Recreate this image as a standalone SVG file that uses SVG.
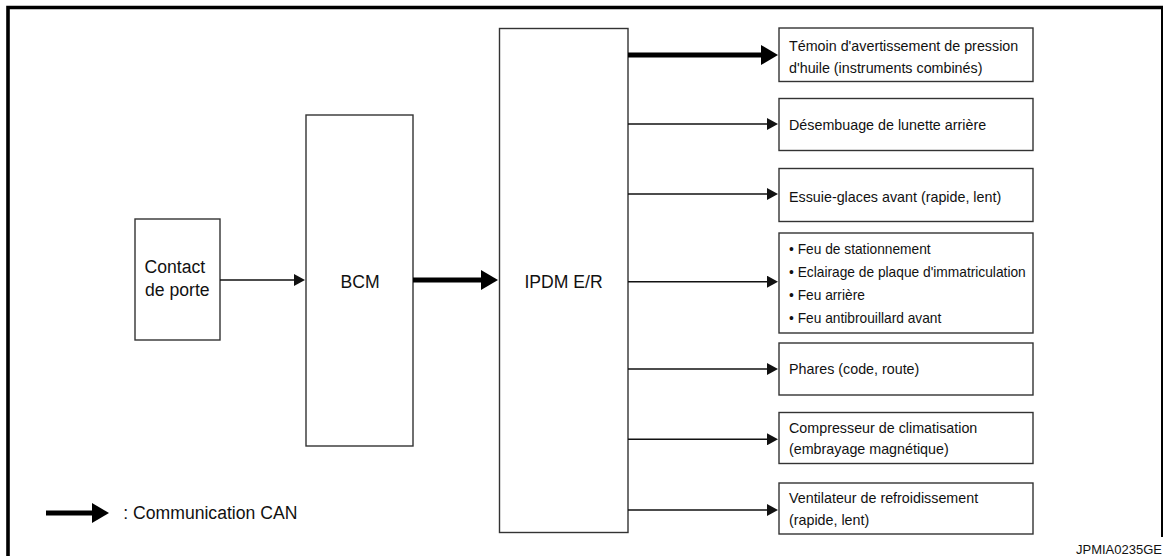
<svg xmlns="http://www.w3.org/2000/svg" width="1163" height="556" viewBox="0 0 1163 556">
<style>
.box{fill:#fff;stroke:#333;stroke-width:1.4}
.t{font-family:"Liberation Sans",Arial,sans-serif;font-size:14.3px;fill:#111}
.b{font-size:13.75px}
.big{font-family:"Liberation Sans",Arial,sans-serif;font-size:17.6px;fill:#111}
.thin{stroke:#111;stroke-width:1.4;fill:none}
.thick{stroke:#000;stroke-width:5;fill:none}
.frame{stroke:#000;stroke-width:3.6;fill:none}
</style>
<defs>
<marker id="ah" viewBox="0 -6 11 12" markerWidth="11" markerHeight="12" refX="1" refY="0" markerUnits="userSpaceOnUse" orient="auto">
<path d="M0,-6 L11,0 L0,6 z" fill="#111"/>
</marker>
<marker id="ahT" viewBox="0 -10 17 20" markerWidth="17" markerHeight="20" refX="1" refY="0" markerUnits="userSpaceOnUse" orient="auto">
<path d="M0,-10 L17,0 L0,10 z" fill="#000"/>
</marker>
</defs>
<g id="frame">
<path class="frame" d="M8,556 V7.5 H1163"/>
<line x1="1162" y1="6" x2="1162" y2="537" stroke="#000" stroke-width="2"/>
</g>
<g id="contact">
<rect class="box" x="135" y="219" width="85" height="121"/>
<text class="big" x="144.5" y="273">Contact</text>
<text class="big" x="145" y="296">de porte</text>
</g>
<g id="bcm">
<rect class="box" x="306" y="115" width="107" height="331"/>
<text class="big" x="360" y="288" text-anchor="middle">BCM</text>
</g>
<g id="ipdm">
<rect class="box" x="499.5" y="28.5" width="128.5" height="504"/>
<text class="big" x="563.5" y="288" text-anchor="middle">IPDM E/R</text>
</g>
<g id="n1">
<rect class="box" x="779" y="28" width="254" height="53.5"/>
<text class="t" x="789" y="51">Témoin d'avertissement de pression</text>
<text class="t" x="789" y="72.5">d'huile (instruments combinés)</text>
</g>
<g id="n2">
<rect class="box" x="779" y="98.5" width="254" height="52"/>
<text class="t" x="789" y="130">Désembuage de lunette arrière</text>
</g>
<g id="n3">
<rect class="box" x="779" y="168.5" width="254" height="53"/>
<text class="t" x="789" y="201.7">Essuie-glaces avant (rapide, lent)</text>
</g>
<g id="n4">
<rect class="box" x="779" y="233" width="254" height="100"/>
<text class="t b" x="789" y="254.3">• Feu de stationnement</text>
<text class="t b" x="789" y="277.3">• Eclairage de plaque d'immatriculation</text>
<text class="t b" x="789" y="300">• Feu arrière</text>
<text class="t b" x="789" y="322.7">• Feu antibrouillard avant</text>
</g>
<g id="n5">
<rect class="box" x="779" y="343" width="254" height="52"/>
<text class="t" x="789" y="374.3">Phares (code, route)</text>
</g>
<g id="n6">
<rect class="box" x="779" y="412.5" width="254" height="51"/>
<text class="t" x="789" y="432.7">Compresseur de climatisation</text>
<text class="t" x="789" y="454">(embrayage magnétique)</text>
</g>
<g id="n7">
<rect class="box" x="779" y="483" width="254" height="51"/>
<text class="t" x="789" y="503.2">Ventilateur de refroidissement</text>
<text class="t" x="789" y="524.5">(rapide, lent)</text>
</g>
<g id="connectors">
<line class="thin" x1="220" y1="280" x2="295" y2="280" marker-end="url(#ah)"/>
<line class="thick" x1="413" y1="280" x2="482" y2="280" marker-end="url(#ahT)"/>
<line class="thick" x1="628" y1="55" x2="762" y2="55" marker-end="url(#ahT)"/>
<line class="thin" x1="628" y1="124" x2="768" y2="124" marker-end="url(#ah)"/>
<line class="thin" x1="628" y1="194" x2="768" y2="194" marker-end="url(#ah)"/>
<line class="thin" x1="628" y1="281.7" x2="768" y2="281.7" marker-end="url(#ah)"/>
<line class="thin" x1="628" y1="369" x2="768" y2="369" marker-end="url(#ah)"/>
<line class="thin" x1="628" y1="439.3" x2="768" y2="439.3" marker-end="url(#ah)"/>
<line class="thin" x1="628" y1="510" x2="768" y2="510" marker-end="url(#ah)"/>
</g>
<g id="legend">
<line class="thick" x1="46" y1="513" x2="93" y2="513" marker-end="url(#ahT)"/>
<text class="big" x="123.3" y="518.5">: Communication CAN</text>
</g>
<text class="t" x="1162" y="554" text-anchor="end" style="font-size:13px">JPMIA0235GE</text>
</svg>
